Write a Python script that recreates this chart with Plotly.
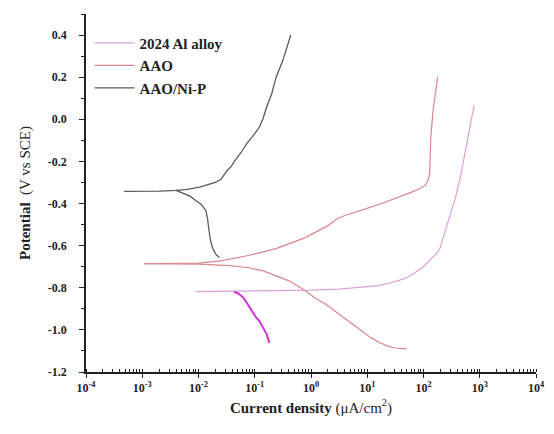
import plotly.graph_objects as go

# log10(current density, uA/cm^2) and potential (V vs SCE)
al_logi = [-2.05, -1.5, -1.0, -0.5, 0.0, 0.5, 0.83, 1.2, 1.42, 1.65, 1.82, 2.0, 2.11, 2.22, 2.29, 2.39, 2.48, 2.57, 2.66, 2.74, 2.81, 2.86, 2.90]
al_pot = [-0.818, -0.817, -0.816, -0.814, -0.811, -0.806, -0.800, -0.790, -0.776, -0.758, -0.733, -0.700, -0.670, -0.640, -0.615, -0.529, -0.450, -0.371, -0.270, -0.162, -0.070, -0.005, 0.067]

al_cath_logi = [-1.37, -1.30, -1.24, -1.20, -1.15, -1.09, -1.04, -0.98, -0.92, -0.87, -0.83, -0.79, -0.76, -0.74]
al_cath_pot = [-0.820, -0.826, -0.838, -0.848, -0.868, -0.895, -0.915, -0.940, -0.957, -0.985, -1.000, -1.019, -1.045, -1.062]

aao_up_logi = [-2.97, -2.5, -2.0, -1.6, -1.14, -0.62, -0.10, 0.30, 0.45, 0.60, 0.77, 1.05, 1.30, 1.55, 1.77, 1.93, 2.03, 2.08, 2.11, 2.13, 2.17, 2.21, 2.25]
aao_up_pot = [-0.686, -0.685, -0.683, -0.672, -0.648, -0.614, -0.562, -0.505, -0.475, -0.457, -0.443, -0.418, -0.395, -0.372, -0.348, -0.330, -0.314, -0.290, -0.257, -0.086, 0.043, 0.120, 0.200]

aao_dn_logi = [-2.97, -2.0, -1.44, -1.1, -0.85, -0.62, -0.39, -0.10, 0.08, 0.25, 0.45, 0.65, 0.86, 1.07, 1.22, 1.35, 1.50, 1.70]
aao_dn_pot = [-0.686, -0.688, -0.695, -0.705, -0.720, -0.743, -0.767, -0.814, -0.850, -0.876, -0.915, -0.957, -0.998, -1.038, -1.060, -1.076, -1.086, -1.090]

nip_logi = [-3.32, -3.0, -2.7, -2.40, -2.20, -1.98, -1.70, -1.60, -1.53, -1.49, -1.42, -1.35, -1.25, -1.14, -1.02, -0.92, -0.85, -0.79, -0.70, -0.62, -0.50, -0.43, -0.36]
nip_pot = [-0.342, -0.343, -0.341, -0.338, -0.333, -0.322, -0.300, -0.285, -0.257, -0.243, -0.225, -0.195, -0.160, -0.114, -0.075, -0.038, 0.005, 0.057, 0.120, 0.200, 0.280, 0.340, 0.400]

nip_cath_logi = [-2.40, -2.28, -2.15, -2.05, -1.95, -1.87, -1.84, -1.82, -1.79, -1.75, -1.70, -1.63]
nip_cath_pot = [-0.338, -0.350, -0.365, -0.386, -0.405, -0.433, -0.470, -0.514, -0.570, -0.610, -0.638, -0.657]

legend_names = ["2024 Al alloy", "AAO", "AAO/Ni-P"]
tick_vals_exp = [-4, -3, -2, -1, 0, 1, 2, 3, 4]
y_ticks = [-1.2, -1.0, -0.8, -0.6, -0.4, -0.2, 0.0, 0.2, 0.4]

c_al = "#dca0d6"
c_al_cath = "#cc33dd"
c_aao = "#d9868e"
c_nip = "#5a5a5a"

def pw(v):
    return [10 ** x for x in v]

fig = go.Figure()
fig.add_trace(go.Scatter(x=pw(al_logi), y=al_pot, mode="lines", name="<b>%s</b>" % legend_names[0],
                         legendrank=1, line=dict(color=c_al, width=1.2)))
fig.add_trace(go.Scatter(x=pw(al_cath_logi), y=al_cath_pot, mode="lines", showlegend=False,
                         line=dict(color=c_al_cath, width=2)))
fig.add_trace(go.Scatter(x=pw(aao_up_logi), y=aao_up_pot, mode="lines", name="<b>%s</b>" % legend_names[1],
                         legendrank=2, line=dict(color=c_aao, width=1.2)))
fig.add_trace(go.Scatter(x=pw(aao_dn_logi), y=aao_dn_pot, mode="lines", showlegend=False,
                         line=dict(color=c_aao, width=1.2)))
fig.add_trace(go.Scatter(x=pw(nip_logi), y=nip_pot, mode="lines", name="<b>%s</b>" % legend_names[2],
                         legendrank=3, line=dict(color=c_nip, width=1.3)))
fig.add_trace(go.Scatter(x=pw(nip_cath_logi), y=nip_cath_pot, mode="lines", showlegend=False,
                         line=dict(color=c_nip, width=1.3)))

font_fam = "Liberation Serif, Times New Roman, serif"
fig.update_layout(
    width=554, height=434,
    margin=dict(l=86, r=9, t=14, b=62),
    paper_bgcolor="white", plot_bgcolor="white",
    font=dict(family=font_fam, color="#222", size=12),
    legend=dict(x=0.008, y=0.965, xanchor="left", yanchor="top",
                bgcolor="rgba(0,0,0,0)", font=dict(size=15, family=font_fam, color="#222"),
                itemwidth=40, tracegroupgap=0),
    xaxis=dict(
        type="log", range=[-4, 4],
        tickvals=[10 ** e for e in tick_vals_exp],
        ticktext=["<b>10<sup>%d</sup></b>" % e for e in tick_vals_exp],
        showline=True, linecolor="#222", linewidth=1.5,
        ticks="outside", ticklen=4, tickcolor="#222", tickwidth=1.2,
        minor=dict(ticks="inside", ticklen=3, tickcolor="#222", dtick="D1"),
        showgrid=False, zeroline=False,
        tickfont=dict(size=12),
        title=dict(text="<b>Current density</b> (μA/cm<sup>2</sup>)", font=dict(size=15), standoff=8),
    ),
    yaxis=dict(
        range=[-1.2, 0.5],
        tickvals=y_ticks,
        ticktext=["<b>%.1f</b>" % v for v in y_ticks],
        showline=True, linecolor="#222", linewidth=1.5,
        ticks="outside", ticklen=5, tickcolor="#222", tickwidth=1.2,
        minor=dict(ticks="outside", ticklen=3, tickcolor="#222", dtick=0.1),
        showgrid=False, zeroline=False,
        tickfont=dict(size=12),
        ticklabelstandoff=10,
        title=dict(text="<b>Potential</b>  (V vs SCE)", font=dict(size=15), standoff=14),
    ),
)

fig.write_html("out.html")
